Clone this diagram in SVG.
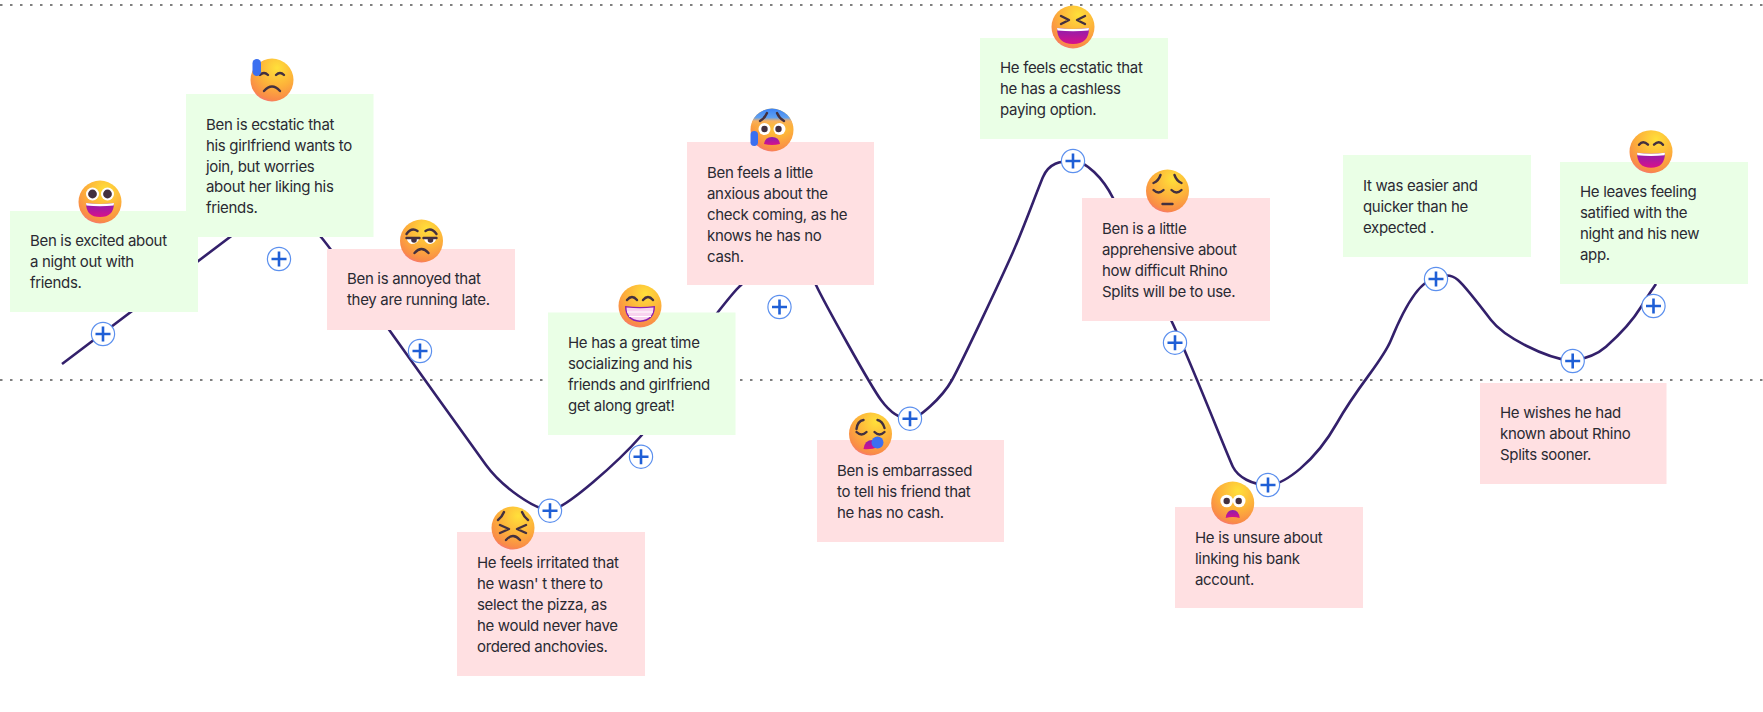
<svg xmlns="http://www.w3.org/2000/svg" width="1763" height="712" viewBox="0 0 1763 712">
<style>
.bg{fill:#fff}
.g{fill:#eaffe6}.p{fill:#ffe0e2}
.t{font-family:"Inter","Noto Sans","Liberation Sans",sans-serif;font-size:15px;fill:#2a2a32;letter-spacing:-.32px}
.dot{stroke:#555;stroke-width:1.5;stroke-dasharray:2.5 7.5;fill:none}
.curve{stroke:#33206b;stroke-width:2.6;fill:none}
.pc{fill:#fff;stroke:#5c90ee;stroke-width:1.2}
.pl{stroke:#1f5fd6;stroke-width:2.6;fill:none}
.ey{stroke:#43303f;stroke-width:2.4;fill:none;stroke-linecap:round;stroke-linejoin:round}
.wh{fill:#fff}.pu{fill:#43303f}
.mo{fill:url(#mouth)}
.sw{fill:#3b6ff0}
</style>
<defs>
<radialGradient id="face" cx=".62" cy=".22" r=".88">
<stop offset="0" stop-color="#ffe03a"/><stop offset=".5" stop-color="#fdb13a"/><stop offset=".84" stop-color="#f98a48"/><stop offset="1" stop-color="#f5679a"/>
</radialGradient>
<linearGradient id="mouth" x1="0" y1="0" x2="0" y2="1"><stop offset="0" stop-color="#8a1fb0"/><stop offset="1" stop-color="#d8108a"/></linearGradient>
<linearGradient id="cold" x1="0" y1="0" x2="0" y2="1"><stop offset="0" stop-color="#3b82f6"/><stop offset=".42" stop-color="#5fa0f0"/><stop offset=".58" stop-color="#f8b060"/><stop offset="1" stop-color="#f9a030" stop-opacity="0"/></linearGradient>
<circle id="base" r="21.5" fill="url(#face)"/>
<g id="plus"><circle class="pc" r="11.6"/><path class="pl" d="M-7.5 0H7.5M0-7.5V7.5"/></g>
</defs>

<rect class="bg" width="1763" height="712"/>
<path class="dot" d="M0 5H1763M0 380H1763"/>

<g id="connectors">
<path class="curve" d="M62 364L230 237C245 225 260 214 275 214S310 224 321 237S375 310 400 345S470 443 486 465S535 510 550 510S620 460 641 436S700 335 718 312S735 291 741 285S765 262 780 262S808 268 816 285S870 385 881 400S902 419 910 419S942 398 952 380S1002 277 1013 252S1037 191 1043 177S1060 161 1073 161S1103 178 1113 198S1155 287 1171.500 321S1228 457 1233 467S1252 485 1268 485S1315 462 1337 423S1382 362 1391 340S1418 279 1436 279C1444 274 1451 274 1458 280S1478 303 1491 320S1545 358 1572 361C1590 358 1600 352 1606 346.700S1630 325 1641 307S1652 290 1656 284"/>
</g>

<g id="n1"><rect class="g" x="10" y="211" width="188" height="101"/><text class="t" x="30" y="246">Ben is excited about</text><text class="t" x="30" y="267">a night out with</text><text class="t" x="30" y="288">friends.</text></g>
<g id="n2"><rect class="g" x="186" y="94" width="187.500" height="143"/><text class="t" x="206" y="129.500">Ben is ecstatic that</text><text class="t" x="206" y="150.500">his girlfriend wants to</text><text class="t" x="206" y="171.500">join, but worries</text><text class="t" x="206" y="192">about her liking his</text><text class="t" x="206" y="213">friends.</text></g>
<g id="n3"><rect class="p" x="327" y="249" width="188" height="81"/><text class="t" x="347" y="284">Ben is annoyed that</text><text class="t" x="347" y="305">they are running late.</text></g>
<g id="n4"><rect class="g" x="548" y="312.500" width="187.500" height="122.500"/><text class="t" x="568" y="348">He has a great time</text><text class="t" x="568" y="369">socializing and his</text><text class="t" x="568" y="390">friends and girlfriend</text><text class="t" x="568" y="411">get along great!</text></g>
<g id="n5"><rect class="p" x="457" y="532" width="188" height="144"/><text class="t" x="477" y="568">He feels irritated that</text><text class="t" x="477" y="589">he wasn' t there to</text><text class="t" x="477" y="610">select the pizza, as</text><text class="t" x="477" y="631">he would never have</text><text class="t" x="477" y="652">ordered anchovies.</text></g>
<g id="n6"><rect class="p" x="817" y="440" width="187" height="102"/><text class="t" x="837" y="476">Ben is embarrassed</text><text class="t" x="837" y="497">to tell his friend that</text><text class="t" x="837" y="518">he has no cash.</text></g>
<g id="n7"><rect class="p" x="687" y="142" width="187" height="143"/><text class="t" x="707" y="178">Ben feels a little</text><text class="t" x="707" y="199">anxious about the</text><text class="t" x="707" y="220">check coming, as he</text><text class="t" x="707" y="241">knows he has no</text><text class="t" x="707" y="262">cash.</text></g>
<g id="n8"><rect class="g" x="980" y="38" width="188" height="101"/><text class="t" x="1000" y="73">He feels ecstatic that</text><text class="t" x="1000" y="94">he has a cashless</text><text class="t" x="1000" y="115">paying option.</text></g>
<g id="n9"><rect class="p" x="1082" y="198" width="188" height="123"/><text class="t" x="1102" y="234">Ben is a little</text><text class="t" x="1102" y="255">apprehensive about</text><text class="t" x="1102" y="276">how difficult Rhino</text><text class="t" x="1102" y="297">Splits will be to use.</text></g>
<g id="n10"><rect class="p" x="1175" y="507" width="188" height="101"/><text class="t" x="1195" y="543">He is unsure about</text><text class="t" x="1195" y="564">linking his bank</text><text class="t" x="1195" y="585">account.</text></g>
<g id="n11"><rect class="g" x="1343" y="155" width="188" height="102"/><text class="t" x="1363" y="191">It was easier and</text><text class="t" x="1363" y="212">quicker than he</text><text class="t" x="1363" y="233">expected .</text></g>
<g id="n12"><rect class="g" x="1560" y="162" width="188" height="122"/><text class="t" x="1580" y="197">He leaves feeling</text><text class="t" x="1580" y="218">satified with the</text><text class="t" x="1580" y="239">night and his new</text><text class="t" x="1580" y="260">app.</text></g>
<g id="n13"><rect class="p" x="1480" y="383" width="186.500" height="101"/><text class="t" x="1500" y="418">He wishes he had</text><text class="t" x="1500" y="439">known about Rhino</text><text class="t" x="1500" y="460">Splits sooner.</text></g>

<g id="plus-buttons">
<use href="#plus" x="103" y="334"/><use href="#plus" x="279" y="259"/><use href="#plus" x="420" y="351"/><use href="#plus" x="550" y="510.700"/><use href="#plus" x="641" y="456.700"/><use href="#plus" x="779.500" y="307"/><use href="#plus" x="910" y="418.700"/><use href="#plus" x="1073" y="161"/><use href="#plus" x="1175" y="342.700"/><use href="#plus" x="1268" y="485"/><use href="#plus" x="1436" y="279"/><use href="#plus" x="1572.700" y="361"/><use href="#plus" x="1653.500" y="306"/>
</g>

<g id="emoji-1" transform="translate(100 202)"><use href="#base"/><circle class="wh" cx="-7.500" cy="-8" r="6.500"/><circle class="wh" cx="7.500" cy="-8" r="6.500"/><circle class="pu" cx="-7.500" cy="-8" r="4.400"/><circle class="pu" cx="7.500" cy="-8" r="4.400"/><path class="mo" d="M-14 1Q0 3 14 1Q14 15 0 15Q-14 15-14 1Z"/><path class="wh" d="M-14 1Q0 3 14 1L13.600 3.500Q0 5-13.600 3.500Z"/></g>

<g id="emoji-2" transform="translate(272 80)"><use href="#base"/><path class="ey" d="M-12-5Q-8-9-4-5M4-5Q8-9 12-5M-8 11Q0 2 8 11"/><rect class="sw" x="-19.500" y="-21" width="8.500" height="17" rx="4.200"/></g>

<g id="emoji-3" transform="translate(421.500 241)"><use href="#base"/><path class="ey" d="M-15-7Q-10-14-4-10M4-10Q10-14 15-7M-7 12Q0 4 7 12"/><path class="wh" d="M-15-3H-2Q-4 3-10 3Q-14 2-15-3ZM2-3H15Q14 2 9 3Q4 3 2-3Z"/><circle class="pu" cx="-7.500" cy="-1" r="2.800"/><circle class="pu" cx="9" cy="-1" r="2.800"/><path class="ey" d="M-15-3H-2M2-3H15"/></g>

<g id="emoji-4" transform="translate(640 306)"><use href="#base"/><path class="ey" d="M-13-6Q-8-12-3-6M3-6Q8-12 13-6"/><path fill="#8a1fb0" d="M-15 0Q0 2 15 0Q15 15 0 16Q-15 15-15 0Z"/><path fill="#f9d3ef" d="M-13.500 1.500Q0 3 13.500 1.500Q13.500 13 0 14.500Q-13.500 13-13.500 1.500Z"/><path d="M-13 6H13M-11 10.500H11" stroke="#fff" stroke-width="1"/></g>

<g id="emoji-5" transform="translate(513 528)"><use href="#base"/><path class="ey" d="M-15-8Q-11-11-9-16M15-8Q11-11 9-16M-13-3L-4 1L-13 5M13-3L4 1L13 5M-7 12Q0 4 7 12"/></g>

<g id="emoji-6" transform="translate(870.500 434)"><use href="#base"/><path class="ey" d="M-14-5Q-13-13-7-14M14-6Q12-13 7-14M-14-2Q-9 3-4-2M4-2Q9 3 14-2"/><path class="mo" d="M-7 15Q-6 6 2 6Q6 8 8 13Q0 16-7 15Z"/><circle class="sw" cx="7" cy="8.500" r="6"/></g>

<g id="emoji-7" transform="translate(772 130)"><use href="#base"/><path fill="url(#cold)" d="M-21.500 0A21.500 21.500 0 0 1 21.500 0Q0-2-21.500 0Z"/><path class="ey" d="M-12-9Q-7-12-5-17M12-9Q7-12 5-17"/><circle class="wh" cx="-7.500" cy="-1" r="6"/><circle class="wh" cx="7.500" cy="-1" r="6"/><circle class="pu" cx="-7.500" cy="-1" r="3.200"/><circle class="pu" cx="6.500" cy="-1" r="3.200"/><path class="mo" d="M-8 14Q-7 7 0 7Q7 7 8 14Q0 16-8 14Z"/><rect class="sw" x="-21.500" y="1" width="7.500" height="15" rx="3.700"/></g>

<g id="emoji-8" transform="translate(1073 27)"><use href="#base"/><path class="ey" d="M-12-11L-4-7L-12-3M12-11L4-7L12-3"/><path class="mo" d="M-16 1Q0 3 16 1Q16 17 0 17Q-16 17-16 1Z"/><path class="wh" d="M-16 1Q0 3 16 1L15.500 3.500Q0 5-15.500 3.500Z"/></g>

<g id="emoji-9" transform="translate(1167.500 191)"><use href="#base"/><path class="ey" d="M-14-8Q-9-10-7-16M14-8Q9-10 7-16M-14-1Q-9 4-4-1M4-1Q9 4 14-1M-5 13H5"/></g>

<g id="emoji-10" transform="translate(1232.700 503)"><use href="#base"/><circle class="wh" cx="-6" cy="-2" r="6.300"/><circle class="wh" cx="6.500" cy="-2" r="6.300"/><circle class="pu" cx="-6" cy="-2" r="3.200"/><circle class="pu" cx="6" cy="-2" r="3.200"/><path class="mo" d="M-7 15Q-6 7 0 7Q6 7 7 15Q0 13-7 15Z"/></g>

<g id="emoji-11" transform="translate(1651 151.700)"><use href="#base"/><path class="ey" d="M-12-7Q-8-12-3-7M3-7Q8-12 12-7"/><path class="mo" d="M-14 1Q0 3 14 1Q14 16 0 16Q-14 16-14 1Z"/><path class="wh" d="M-14 1Q0 3 14 1L13.600 3.500Q0 5-13.600 3.500Z"/></g>
</svg>
